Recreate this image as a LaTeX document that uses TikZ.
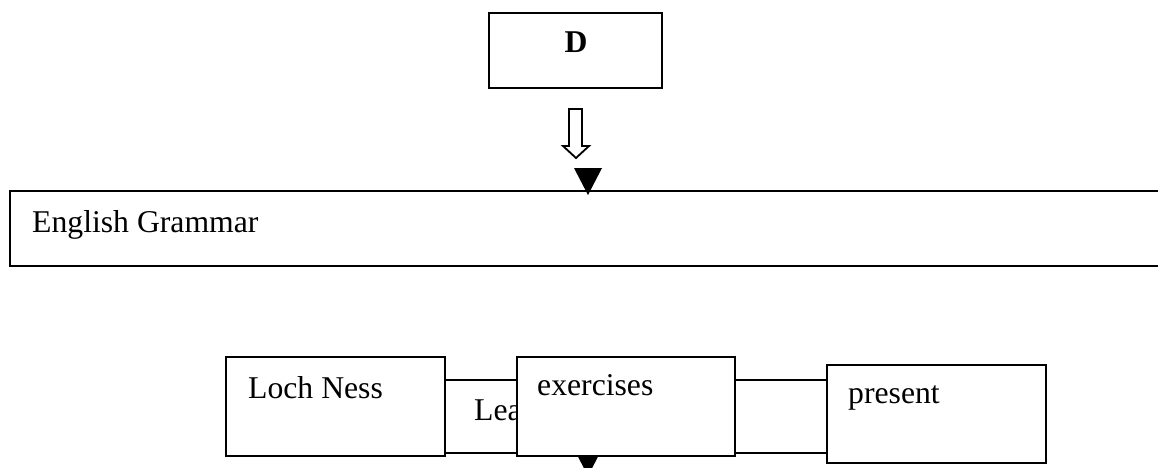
\documentclass[tikz,border=0pt]{standalone}
\usepackage{fontspec}
\setmainfont{Liberation Serif}
\begin{document}
\begin{tikzpicture}[x=1pt,y=-1pt,
  box/.style={draw=black, line width=2.5pt, fill=white, rectangle, inner sep=0pt, outer sep=0pt, anchor=north west},
  joinbox/.style={draw=black, line width=2pt, fill=white, rectangle, inner sep=0pt, outer sep=0pt, anchor=north west},
  lbl/.style={font=\fontsize{31.7}{38}\selectfont, inner sep=0pt, anchor=base west},
  hollow/.style={draw=black, line width=1.8pt, fill=white, line join=miter},
  solidtri/.style={fill=black},
]
\clip (0,0) rectangle (1158,468);

% top box with bold D
\node[box, minimum width=173pt, minimum height=75pt] (dbox) at (489,13) {};
\node[lbl, font=\fontsize{31.7}{38}\selectfont\bfseries, anchor=base] (dlabel) at (576,53) {D};

% wide box running off the right edge
\node[box, minimum width=1160pt, minimum height=75pt] (grammar) at (10,191) {};
\node[lbl] (grammarlabel) at (32,232) {English Grammar};

% hollow block arrow under the D box
\draw[hollow] (569,109) -- (582,109) -- (582,146) -- (589,146) -- (576,158)
  -- (563,146) -- (569,146) -- cycle;

% solid arrowhead touching the wide box
\fill[solidtri] (574,168) -- (602,168) -- (588,195) -- cycle;

% solid arrowhead below the exercises box (partly hidden)
\fill[solidtri] (574,449) -- (602,449) -- (588,476) -- cycle;

% joining boxes behind the front boxes
\node[joinbox, minimum width=140pt, minimum height=73pt] (leabox) at (445,380) {};
\node[lbl] (lealabel) at (474,420) {Lea};
\node[joinbox, minimum width=127pt, minimum height=73pt] (joinbox) at (700,380) {};

% front boxes
\node[box, minimum width=219pt, minimum height=99pt] (loch) at (226,357) {};
\node[lbl] (lochlabel) at (248,398) {Loch Ness};
\node[box, minimum width=218pt, minimum height=99pt] (exercises) at (517,357) {};
\node[lbl] (exerciseslabel) at (537,395.5) {exercises};
\node[box, minimum width=219pt, minimum height=98pt] (present) at (827,365) {};
\node[lbl] (presentlabel) at (848,403) {present};
\end{tikzpicture}
\end{document}
